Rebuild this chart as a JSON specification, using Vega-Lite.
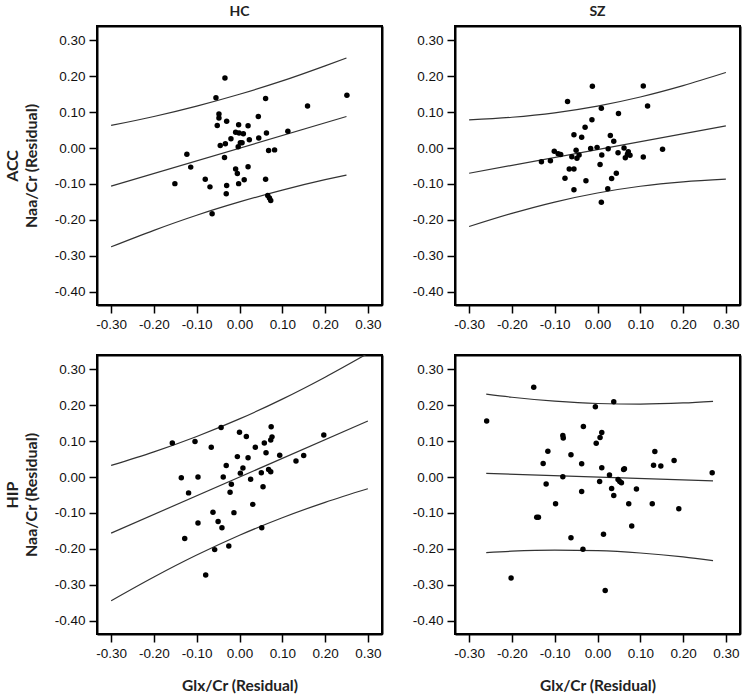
{
  "$schema": "https://vega.github.io/schema/vega-lite/v6.json",
  "background": "white",
  "padding": {"left": 3, "top": 4, "right": 2, "bottom": 0},
  "config": {
    "view": {"stroke": "#000", "strokeWidth": 2},
    "axis": {"grid": false}
  },
  "datasets": {
    "points": [
      {"panel": "HC-ACC", "x": -0.151, "y": -0.099}, {"panel": "HC-ACC", "x": -0.123, "y": -0.017}, {"panel": "HC-ACC", "x": -0.114, "y": -0.053}, {"panel": "HC-ACC", "x": -0.080, "y": -0.087}, {"panel": "HC-ACC", "x": -0.069, "y": -0.108}, {"panel": "HC-ACC", "x": -0.064, "y": -0.183}, {"panel": "HC-ACC", "x": -0.055, "y": 0.140}, {"panel": "HC-ACC", "x": -0.034, "y": 0.195}, {"panel": "HC-ACC", "x": -0.048, "y": 0.095}, {"panel": "HC-ACC", "x": -0.048, "y": 0.084}, {"panel": "HC-ACC", "x": -0.052, "y": 0.063}, {"panel": "HC-ACC", "x": -0.030, "y": 0.075}, {"panel": "HC-ACC", "x": -0.045, "y": 0.007}, {"panel": "HC-ACC", "x": -0.033, "y": 0.012}, {"panel": "HC-ACC", "x": -0.035, "y": -0.026}, {"panel": "HC-ACC", "x": -0.031, "y": -0.127}, {"panel": "HC-ACC", "x": -0.030, "y": -0.104}, {"panel": "HC-ACC", "x": -0.020, "y": 0.026}, {"panel": "HC-ACC", "x": -0.009, "y": 0.044}, {"panel": "HC-ACC", "x": -0.002, "y": 0.065}, {"panel": "HC-ACC", "x": -0.001, "y": 0.042}, {"panel": "HC-ACC", "x": 0.009, "y": 0.040}, {"panel": "HC-ACC", "x": -0.003, "y": 0.004}, {"panel": "HC-ACC", "x": 0.002, "y": 0.015}, {"panel": "HC-ACC", "x": 0.006, "y": 0.015}, {"panel": "HC-ACC", "x": -0.009, "y": -0.058}, {"panel": "HC-ACC", "x": -0.005, "y": -0.071}, {"panel": "HC-ACC", "x": -0.002, "y": -0.099}, {"panel": "HC-ACC", "x": 0.011, "y": -0.088}, {"panel": "HC-ACC", "x": 0.020, "y": 0.062}, {"panel": "HC-ACC", "x": 0.023, "y": 0.023}, {"panel": "HC-ACC", "x": 0.020, "y": -0.052}, {"panel": "HC-ACC", "x": 0.044, "y": 0.088}, {"panel": "HC-ACC", "x": 0.045, "y": 0.028}, {"panel": "HC-ACC", "x": 0.061, "y": 0.138}, {"panel": "HC-ACC", "x": 0.063, "y": 0.042}, {"panel": "HC-ACC", "x": 0.061, "y": -0.087}, {"panel": "HC-ACC", "x": 0.068, "y": -0.007}, {"panel": "HC-ACC", "x": 0.082, "y": -0.005}, {"panel": "HC-ACC", "x": 0.066, "y": -0.132}, {"panel": "HC-ACC", "x": 0.070, "y": -0.139}, {"panel": "HC-ACC", "x": 0.073, "y": -0.146}, {"panel": "HC-ACC", "x": 0.113, "y": 0.047}, {"panel": "HC-ACC", "x": 0.159, "y": 0.117}, {"panel": "HC-ACC", "x": 0.251, "y": 0.147},

      {"panel": "SZ-ACC", "x": -0.131, "y": -0.038}, {"panel": "SZ-ACC", "x": -0.110, "y": -0.035}, {"panel": "SZ-ACC", "x": -0.101, "y": -0.009}, {"panel": "SZ-ACC", "x": -0.092, "y": -0.016}, {"panel": "SZ-ACC", "x": -0.086, "y": -0.018}, {"panel": "SZ-ACC", "x": -0.076, "y": -0.084}, {"panel": "SZ-ACC", "x": -0.070, "y": 0.130}, {"panel": "SZ-ACC", "x": -0.066, "y": -0.058}, {"panel": "SZ-ACC", "x": -0.060, "y": -0.024}, {"panel": "SZ-ACC", "x": -0.055, "y": 0.037}, {"panel": "SZ-ACC", "x": -0.055, "y": -0.058}, {"panel": "SZ-ACC", "x": -0.055, "y": -0.116}, {"panel": "SZ-ACC", "x": -0.050, "y": -0.006}, {"panel": "SZ-ACC", "x": -0.048, "y": -0.028}, {"panel": "SZ-ACC", "x": -0.043, "y": -0.019}, {"panel": "SZ-ACC", "x": -0.037, "y": 0.030}, {"panel": "SZ-ACC", "x": -0.029, "y": 0.058}, {"panel": "SZ-ACC", "x": -0.027, "y": -0.091}, {"panel": "SZ-ACC", "x": -0.016, "y": -0.001}, {"panel": "SZ-ACC", "x": -0.013, "y": 0.079}, {"panel": "SZ-ACC", "x": -0.012, "y": 0.172}, {"panel": "SZ-ACC", "x": -0.001, "y": 0.002}, {"panel": "SZ-ACC", "x": 0.009, "y": 0.111}, {"panel": "SZ-ACC", "x": 0.006, "y": -0.046}, {"panel": "SZ-ACC", "x": 0.010, "y": -0.019}, {"panel": "SZ-ACC", "x": 0.009, "y": -0.151}, {"panel": "SZ-ACC", "x": 0.025, "y": -0.002}, {"panel": "SZ-ACC", "x": 0.024, "y": -0.113}, {"panel": "SZ-ACC", "x": 0.030, "y": 0.035}, {"panel": "SZ-ACC", "x": 0.033, "y": -0.085}, {"panel": "SZ-ACC", "x": 0.038, "y": 0.019}, {"panel": "SZ-ACC", "x": 0.044, "y": -0.070}, {"panel": "SZ-ACC", "x": 0.048, "y": -0.013}, {"panel": "SZ-ACC", "x": 0.049, "y": 0.096}, {"panel": "SZ-ACC", "x": 0.062, "y": 0.000}, {"panel": "SZ-ACC", "x": 0.065, "y": -0.027}, {"panel": "SZ-ACC", "x": 0.070, "y": -0.017}, {"panel": "SZ-ACC", "x": 0.072, "y": -0.010}, {"panel": "SZ-ACC", "x": 0.076, "y": -0.020}, {"panel": "SZ-ACC", "x": 0.107, "y": -0.025}, {"panel": "SZ-ACC", "x": 0.107, "y": 0.173}, {"panel": "SZ-ACC", "x": 0.117, "y": 0.117}, {"panel": "SZ-ACC", "x": 0.152, "y": -0.003},

      {"panel": "HC-HIP", "x": -0.157, "y": 0.095}, {"panel": "HC-HIP", "x": -0.136, "y": -0.002}, {"panel": "HC-HIP", "x": -0.128, "y": -0.171}, {"panel": "HC-HIP", "x": -0.119, "y": -0.044}, {"panel": "HC-HIP", "x": -0.104, "y": 0.099}, {"panel": "HC-HIP", "x": -0.097, "y": 0.000}, {"panel": "HC-HIP", "x": -0.097, "y": -0.128}, {"panel": "HC-HIP", "x": -0.079, "y": -0.273}, {"panel": "HC-HIP", "x": -0.066, "y": 0.083}, {"panel": "HC-HIP", "x": -0.062, "y": -0.098}, {"panel": "HC-HIP", "x": -0.058, "y": -0.202}, {"panel": "HC-HIP", "x": -0.050, "y": -0.124}, {"panel": "HC-HIP", "x": -0.043, "y": 0.138}, {"panel": "HC-HIP", "x": -0.041, "y": -0.141}, {"panel": "HC-HIP", "x": -0.038, "y": 0.000}, {"panel": "HC-HIP", "x": -0.031, "y": 0.032}, {"panel": "HC-HIP", "x": -0.025, "y": -0.192}, {"panel": "HC-HIP", "x": -0.022, "y": -0.042}, {"panel": "HC-HIP", "x": -0.019, "y": -0.020}, {"panel": "HC-HIP", "x": -0.013, "y": -0.099}, {"panel": "HC-HIP", "x": -0.005, "y": 0.057}, {"panel": "HC-HIP", "x": 0.000, "y": 0.125}, {"panel": "HC-HIP", "x": 0.002, "y": 0.011}, {"panel": "HC-HIP", "x": 0.008, "y": 0.025}, {"panel": "HC-HIP", "x": 0.016, "y": 0.113}, {"panel": "HC-HIP", "x": 0.020, "y": 0.054}, {"panel": "HC-HIP", "x": 0.026, "y": -0.006}, {"panel": "HC-HIP", "x": 0.031, "y": -0.076}, {"panel": "HC-HIP", "x": 0.037, "y": 0.083}, {"panel": "HC-HIP", "x": 0.051, "y": 0.012}, {"panel": "HC-HIP", "x": 0.052, "y": -0.141}, {"panel": "HC-HIP", "x": 0.055, "y": -0.027}, {"panel": "HC-HIP", "x": 0.058, "y": 0.095}, {"panel": "HC-HIP", "x": 0.062, "y": 0.068}, {"panel": "HC-HIP", "x": 0.068, "y": 0.021}, {"panel": "HC-HIP", "x": 0.074, "y": 0.140}, {"panel": "HC-HIP", "x": 0.073, "y": 0.103}, {"panel": "HC-HIP", "x": 0.076, "y": 0.112}, {"panel": "HC-HIP", "x": 0.073, "y": 0.015}, {"panel": "HC-HIP", "x": 0.094, "y": 0.061}, {"panel": "HC-HIP", "x": 0.132, "y": 0.045}, {"panel": "HC-HIP", "x": 0.150, "y": 0.060}, {"panel": "HC-HIP", "x": 0.197, "y": 0.117},

      {"panel": "SZ-HIP", "x": -0.259, "y": 0.156}, {"panel": "SZ-HIP", "x": -0.202, "y": -0.281}, {"panel": "SZ-HIP", "x": -0.149, "y": 0.250}, {"panel": "SZ-HIP", "x": -0.142, "y": -0.112}, {"panel": "SZ-HIP", "x": -0.138, "y": -0.112}, {"panel": "SZ-HIP", "x": -0.127, "y": 0.038}, {"panel": "SZ-HIP", "x": -0.120, "y": -0.019}, {"panel": "SZ-HIP", "x": -0.116, "y": 0.072}, {"panel": "SZ-HIP", "x": -0.098, "y": -0.074}, {"panel": "SZ-HIP", "x": -0.081, "y": 0.116}, {"panel": "SZ-HIP", "x": -0.080, "y": 0.109}, {"panel": "SZ-HIP", "x": -0.081, "y": 0.001}, {"panel": "SZ-HIP", "x": -0.062, "y": 0.062}, {"panel": "SZ-HIP", "x": -0.062, "y": -0.169}, {"panel": "SZ-HIP", "x": -0.037, "y": 0.037}, {"panel": "SZ-HIP", "x": -0.037, "y": -0.040}, {"panel": "SZ-HIP", "x": -0.033, "y": 0.141}, {"panel": "SZ-HIP", "x": -0.034, "y": -0.201}, {"panel": "SZ-HIP", "x": -0.005, "y": 0.196}, {"panel": "SZ-HIP", "x": -0.003, "y": 0.094}, {"panel": "SZ-HIP", "x": 0.005, "y": -0.012}, {"panel": "SZ-HIP", "x": 0.006, "y": 0.110}, {"panel": "SZ-HIP", "x": 0.010, "y": 0.124}, {"panel": "SZ-HIP", "x": 0.010, "y": 0.026}, {"panel": "SZ-HIP", "x": 0.014, "y": -0.159}, {"panel": "SZ-HIP", "x": 0.018, "y": -0.316}, {"panel": "SZ-HIP", "x": 0.028, "y": 0.006}, {"panel": "SZ-HIP", "x": 0.033, "y": -0.032}, {"panel": "SZ-HIP", "x": 0.038, "y": 0.210}, {"panel": "SZ-HIP", "x": 0.038, "y": -0.051}, {"panel": "SZ-HIP", "x": 0.048, "y": -0.007}, {"panel": "SZ-HIP", "x": 0.052, "y": -0.012}, {"panel": "SZ-HIP", "x": 0.056, "y": -0.016}, {"panel": "SZ-HIP", "x": 0.061, "y": 0.021}, {"panel": "SZ-HIP", "x": 0.063, "y": 0.023}, {"panel": "SZ-HIP", "x": 0.073, "y": -0.074}, {"panel": "SZ-HIP", "x": 0.080, "y": -0.136}, {"panel": "SZ-HIP", "x": 0.091, "y": -0.033}, {"panel": "SZ-HIP", "x": 0.128, "y": -0.074}, {"panel": "SZ-HIP", "x": 0.131, "y": 0.033}, {"panel": "SZ-HIP", "x": 0.134, "y": 0.071}, {"panel": "SZ-HIP", "x": 0.148, "y": 0.031}, {"panel": "SZ-HIP", "x": 0.179, "y": 0.046}, {"panel": "SZ-HIP", "x": 0.190, "y": -0.088}, {"panel": "SZ-HIP", "x": 0.268, "y": 0.012}
    ],
    "curves": [
      {"panel": "HC-ACC", "band": "upper", "x": -0.30, "y": 0.063}, {"panel": "HC-ACC", "band": "upper", "x": -0.20, "y": 0.088}, {"panel": "HC-ACC", "band": "upper", "x": -0.10, "y": 0.117}, {"panel": "HC-ACC", "band": "upper", "x": 0.00, "y": 0.150}, {"panel": "HC-ACC", "band": "upper", "x": 0.10, "y": 0.187}, {"panel": "HC-ACC", "band": "upper", "x": 0.20, "y": 0.229}, {"panel": "HC-ACC", "band": "upper", "x": 0.25, "y": 0.251},
      {"panel": "HC-ACC", "band": "fit", "x": -0.30, "y": -0.106}, {"panel": "HC-ACC", "band": "fit", "x": 0.25, "y": 0.088},
      {"panel": "HC-ACC", "band": "lower", "x": -0.30, "y": -0.275}, {"panel": "HC-ACC", "band": "lower", "x": -0.20, "y": -0.229}, {"panel": "HC-ACC", "band": "lower", "x": -0.10, "y": -0.187}, {"panel": "HC-ACC", "band": "lower", "x": 0.00, "y": -0.150}, {"panel": "HC-ACC", "band": "lower", "x": 0.10, "y": -0.117}, {"panel": "HC-ACC", "band": "lower", "x": 0.20, "y": -0.088}, {"panel": "HC-ACC", "band": "lower", "x": 0.25, "y": -0.075},

      {"panel": "SZ-ACC", "band": "upper", "x": -0.30, "y": 0.0785}, {"panel": "SZ-ACC", "band": "upper", "x": -0.20, "y": 0.0859}, {"panel": "SZ-ACC", "band": "upper", "x": -0.10, "y": 0.0983}, {"panel": "SZ-ACC", "band": "upper", "x": 0.00, "y": 0.117}, {"panel": "SZ-ACC", "band": "upper", "x": 0.10, "y": 0.1423}, {"panel": "SZ-ACC", "band": "upper", "x": 0.20, "y": 0.1739}, {"panel": "SZ-ACC", "band": "upper", "x": 0.30, "y": 0.2105},
      {"panel": "SZ-ACC", "band": "fit", "x": -0.30, "y": -0.070}, {"panel": "SZ-ACC", "band": "fit", "x": 0.30, "y": 0.062},
      {"panel": "SZ-ACC", "band": "lower", "x": -0.30, "y": -0.2185}, {"panel": "SZ-ACC", "band": "lower", "x": -0.20, "y": -0.1819}, {"panel": "SZ-ACC", "band": "lower", "x": -0.10, "y": -0.1503}, {"panel": "SZ-ACC", "band": "lower", "x": 0.00, "y": -0.125}, {"panel": "SZ-ACC", "band": "lower", "x": 0.10, "y": -0.1063}, {"panel": "SZ-ACC", "band": "lower", "x": 0.20, "y": -0.0939}, {"panel": "SZ-ACC", "band": "lower", "x": 0.30, "y": -0.0865},

      {"panel": "HC-HIP", "band": "upper", "x": -0.30, "y": 0.0325}, {"panel": "HC-HIP", "band": "upper", "x": -0.20, "y": 0.0703}, {"panel": "HC-HIP", "band": "upper", "x": -0.10, "y": 0.1132}, {"panel": "HC-HIP", "band": "upper", "x": 0.00, "y": 0.162}, {"panel": "HC-HIP", "band": "upper", "x": 0.10, "y": 0.2172}, {"panel": "HC-HIP", "band": "upper", "x": 0.20, "y": 0.2783}, {"panel": "HC-HIP", "band": "upper", "x": 0.30, "y": 0.3445},
      {"panel": "HC-HIP", "band": "fit", "x": -0.30, "y": -0.156}, {"panel": "HC-HIP", "band": "fit", "x": 0.30, "y": 0.156},
      {"panel": "HC-HIP", "band": "lower", "x": -0.30, "y": -0.3445}, {"panel": "HC-HIP", "band": "lower", "x": -0.20, "y": -0.2783}, {"panel": "HC-HIP", "band": "lower", "x": -0.10, "y": -0.2172}, {"panel": "HC-HIP", "band": "lower", "x": 0.00, "y": -0.162}, {"panel": "HC-HIP", "band": "lower", "x": 0.10, "y": -0.1132}, {"panel": "HC-HIP", "band": "lower", "x": 0.20, "y": -0.0703}, {"panel": "HC-HIP", "band": "lower", "x": 0.30, "y": -0.0325},

      {"panel": "SZ-HIP", "band": "upper", "x": -0.26, "y": 0.231}, {"panel": "SZ-HIP", "band": "upper", "x": -0.20, "y": 0.2224}, {"panel": "SZ-HIP", "band": "upper", "x": -0.10, "y": 0.2114}, {"panel": "SZ-HIP", "band": "upper", "x": 0.00, "y": 0.205}, {"panel": "SZ-HIP", "band": "upper", "x": 0.10, "y": 0.2034}, {"panel": "SZ-HIP", "band": "upper", "x": 0.20, "y": 0.2064}, {"panel": "SZ-HIP", "band": "upper", "x": 0.27, "y": 0.211},
      {"panel": "SZ-HIP", "band": "fit", "x": -0.26, "y": 0.0104}, {"panel": "SZ-HIP", "band": "fit", "x": 0.27, "y": -0.0108},
      {"panel": "SZ-HIP", "band": "lower", "x": -0.26, "y": -0.2102}, {"panel": "SZ-HIP", "band": "lower", "x": -0.20, "y": -0.2064}, {"panel": "SZ-HIP", "band": "lower", "x": -0.10, "y": -0.2034}, {"panel": "SZ-HIP", "band": "lower", "x": 0.00, "y": -0.205}, {"panel": "SZ-HIP", "band": "lower", "x": 0.10, "y": -0.2114}, {"panel": "SZ-HIP", "band": "lower", "x": 0.20, "y": -0.2224}, {"panel": "SZ-HIP", "band": "lower", "x": 0.27, "y": -0.2326}
    ]
  },
  "spacing": 22,
  "vconcat": [
    {
      "spacing": 28,
      "hconcat": [
        {
          "title": {"text": "HC", "font": "Lato", "fontSize": 14, "fontWeight": "bold", "color": "#222", "offset": 7},
          "width": 285, "height": 279,
          "resolve": {"axis": {"x": "independent", "y": "independent"}},
          "layer": [
            {"data": {"name": "curves"}, "transform": [{"filter": "datum.panel === 'HC-ACC'"}],
             "mark": {"type": "line", "color": "#333", "strokeWidth": 1.2, "interpolate": "monotone", "clip": true},
             "encoding": {"x": {"field": "x", "type": "quantitative", "scale": {"domain": [-0.333, 0.333], "nice": false, "zero": false}, "axis": {"title": null, "grid": false, "domain": true, "domainColor": "#000", "domainWidth": 2, "tickColor": "#000", "tickWidth": 1.5, "tickSize": 8, "labelFont": "Liberation Sans", "labelFontSize": 13.5, "labelColor": "#111", "labelPadding": 4, "labelOverlap": false, "values": [-0.3, -0.2, -0.1, 0, 0.1, 0.2, 0.3], "labelExpr": "replace(format(datum.value, '.2f'), '\u2212', '-')"}},
                          "y": {"field": "y", "type": "quantitative", "scale": {"domain": [-0.437, 0.34], "nice": false, "zero": false}, "axis": {"title": ["ACC", "Naa/Cr (Residual)"], "titleFont": "Lato", "titleFontSize": 16, "titleFontWeight": "bold", "titleColor": "#222", "titlePadding": 15, "titleLineHeight": 19, "grid": false, "domain": true, "domainColor": "#000", "domainWidth": 2, "tickColor": "#000", "tickWidth": 1.5, "tickSize": 8, "labelFont": "Liberation Sans", "labelFontSize": 13.5, "labelColor": "#111", "labelPadding": 4, "labelOverlap": false, "values": [-0.4, -0.3, -0.2, -0.1, 0, 0.1, 0.2, 0.3], "labelExpr": "replace(format(datum.value, '.2f'), '\u2212', '-')"}},
                          "detail": {"field": "band"}}},
            {"data": {"name": "points"}, "transform": [{"filter": "datum.panel === 'HC-ACC'"}],
             "mark": {"type": "circle", "color": "#000", "opacity": 1, "size": 30},
             "encoding": {"x": {"field": "x", "type": "quantitative", "axis": {"orient": "top", "title": null, "labels": false, "ticks": false, "grid": false, "domain": true, "domainColor": "#000", "domainWidth": 2}},
                          "y": {"field": "y", "type": "quantitative", "axis": {"orient": "right", "title": null, "labels": false, "ticks": false, "grid": false, "domain": true, "domainColor": "#000", "domainWidth": 2}}}}
          ]
        },
        {
          "title": {"text": "SZ", "font": "Lato", "fontSize": 14, "fontWeight": "bold", "color": "#222", "offset": 7},
          "width": 285, "height": 279,
          "resolve": {"axis": {"x": "independent", "y": "independent"}},
          "layer": [
            {"data": {"name": "curves"}, "transform": [{"filter": "datum.panel === 'SZ-ACC'"}],
             "mark": {"type": "line", "color": "#333", "strokeWidth": 1.2, "interpolate": "monotone", "clip": true},
             "encoding": {"x": {"field": "x", "type": "quantitative", "scale": {"domain": [-0.333, 0.333], "nice": false, "zero": false}, "axis": {"title": null, "grid": false, "domain": true, "domainColor": "#000", "domainWidth": 2, "tickColor": "#000", "tickWidth": 1.5, "tickSize": 8, "labelFont": "Liberation Sans", "labelFontSize": 13.5, "labelColor": "#111", "labelPadding": 4, "labelOverlap": false, "values": [-0.3, -0.2, -0.1, 0, 0.1, 0.2, 0.3], "labelExpr": "replace(format(datum.value, '.2f'), '\u2212', '-')"}},
                          "y": {"field": "y", "type": "quantitative", "scale": {"domain": [-0.437, 0.34], "nice": false, "zero": false}, "axis": {"title": null, "grid": false, "domain": true, "domainColor": "#000", "domainWidth": 2, "tickColor": "#000", "tickWidth": 1.5, "tickSize": 8, "labelFont": "Liberation Sans", "labelFontSize": 13.5, "labelColor": "#111", "labelPadding": 4, "labelOverlap": false, "values": [-0.4, -0.3, -0.2, -0.1, 0, 0.1, 0.2, 0.3], "labelExpr": "replace(format(datum.value, '.2f'), '\u2212', '-')"}},
                          "detail": {"field": "band"}}},
            {"data": {"name": "points"}, "transform": [{"filter": "datum.panel === 'SZ-ACC'"}],
             "mark": {"type": "circle", "color": "#000", "opacity": 1, "size": 30},
             "encoding": {"x": {"field": "x", "type": "quantitative", "axis": {"orient": "top", "title": null, "labels": false, "ticks": false, "grid": false, "domain": true, "domainColor": "#000", "domainWidth": 2}},
                          "y": {"field": "y", "type": "quantitative", "axis": {"orient": "right", "title": null, "labels": false, "ticks": false, "grid": false, "domain": true, "domainColor": "#000", "domainWidth": 2}}}}
          ]
        }
      ]
    },
    {
      "spacing": 28,
      "hconcat": [
        {
          "width": 285, "height": 279,
          "resolve": {"axis": {"x": "independent", "y": "independent"}},
          "layer": [
            {"data": {"name": "curves"}, "transform": [{"filter": "datum.panel === 'HC-HIP'"}],
             "mark": {"type": "line", "color": "#333", "strokeWidth": 1.2, "interpolate": "monotone", "clip": true},
             "encoding": {"x": {"field": "x", "type": "quantitative", "scale": {"domain": [-0.333, 0.333], "nice": false, "zero": false}, "axis": {"title": "Glx/Cr (Residual)", "titleFont": "Lato", "titleFontSize": 15.5, "titleFontWeight": "bold", "titleColor": "#222", "titlePadding": 19, "grid": false, "domain": true, "domainColor": "#000", "domainWidth": 2, "tickColor": "#000", "tickWidth": 1.5, "tickSize": 8, "labelFont": "Liberation Sans", "labelFontSize": 13.5, "labelColor": "#111", "labelPadding": 4, "labelOverlap": false, "values": [-0.3, -0.2, -0.1, 0, 0.1, 0.2, 0.3], "labelExpr": "replace(format(datum.value, '.2f'), '\u2212', '-')"}},
                          "y": {"field": "y", "type": "quantitative", "scale": {"domain": [-0.437, 0.34], "nice": false, "zero": false}, "axis": {"title": ["HIP", "Naa/Cr (Residual)"], "titleFont": "Lato", "titleFontSize": 16, "titleFontWeight": "bold", "titleColor": "#222", "titlePadding": 15, "titleLineHeight": 19, "grid": false, "domain": true, "domainColor": "#000", "domainWidth": 2, "tickColor": "#000", "tickWidth": 1.5, "tickSize": 8, "labelFont": "Liberation Sans", "labelFontSize": 13.5, "labelColor": "#111", "labelPadding": 4, "labelOverlap": false, "values": [-0.4, -0.3, -0.2, -0.1, 0, 0.1, 0.2, 0.3], "labelExpr": "replace(format(datum.value, '.2f'), '\u2212', '-')"}},
                          "detail": {"field": "band"}}},
            {"data": {"name": "points"}, "transform": [{"filter": "datum.panel === 'HC-HIP'"}],
             "mark": {"type": "circle", "color": "#000", "opacity": 1, "size": 30},
             "encoding": {"x": {"field": "x", "type": "quantitative", "axis": {"orient": "top", "title": null, "labels": false, "ticks": false, "grid": false, "domain": true, "domainColor": "#000", "domainWidth": 2}},
                          "y": {"field": "y", "type": "quantitative", "axis": {"orient": "right", "title": null, "labels": false, "ticks": false, "grid": false, "domain": true, "domainColor": "#000", "domainWidth": 2}}}}
          ]
        },
        {
          "width": 285, "height": 279,
          "resolve": {"axis": {"x": "independent", "y": "independent"}},
          "layer": [
            {"data": {"name": "curves"}, "transform": [{"filter": "datum.panel === 'SZ-HIP'"}],
             "mark": {"type": "line", "color": "#333", "strokeWidth": 1.2, "interpolate": "monotone", "clip": true},
             "encoding": {"x": {"field": "x", "type": "quantitative", "scale": {"domain": [-0.333, 0.333], "nice": false, "zero": false}, "axis": {"title": "Glx/Cr (Residual)", "titleFont": "Lato", "titleFontSize": 15.5, "titleFontWeight": "bold", "titleColor": "#222", "titlePadding": 19, "grid": false, "domain": true, "domainColor": "#000", "domainWidth": 2, "tickColor": "#000", "tickWidth": 1.5, "tickSize": 8, "labelFont": "Liberation Sans", "labelFontSize": 13.5, "labelColor": "#111", "labelPadding": 4, "labelOverlap": false, "values": [-0.3, -0.2, -0.1, 0, 0.1, 0.2, 0.3], "labelExpr": "replace(format(datum.value, '.2f'), '\u2212', '-')"}},
                          "y": {"field": "y", "type": "quantitative", "scale": {"domain": [-0.437, 0.34], "nice": false, "zero": false}, "axis": {"title": null, "grid": false, "domain": true, "domainColor": "#000", "domainWidth": 2, "tickColor": "#000", "tickWidth": 1.5, "tickSize": 8, "labelFont": "Liberation Sans", "labelFontSize": 13.5, "labelColor": "#111", "labelPadding": 4, "labelOverlap": false, "values": [-0.4, -0.3, -0.2, -0.1, 0, 0.1, 0.2, 0.3], "labelExpr": "replace(format(datum.value, '.2f'), '\u2212', '-')"}},
                          "detail": {"field": "band"}}},
            {"data": {"name": "points"}, "transform": [{"filter": "datum.panel === 'SZ-HIP'"}],
             "mark": {"type": "circle", "color": "#000", "opacity": 1, "size": 30},
             "encoding": {"x": {"field": "x", "type": "quantitative", "axis": {"orient": "top", "title": null, "labels": false, "ticks": false, "grid": false, "domain": true, "domainColor": "#000", "domainWidth": 2}},
                          "y": {"field": "y", "type": "quantitative", "axis": {"orient": "right", "title": null, "labels": false, "ticks": false, "grid": false, "domain": true, "domainColor": "#000", "domainWidth": 2}}}}
          ]
        }
      ]
    }
  ]
}
